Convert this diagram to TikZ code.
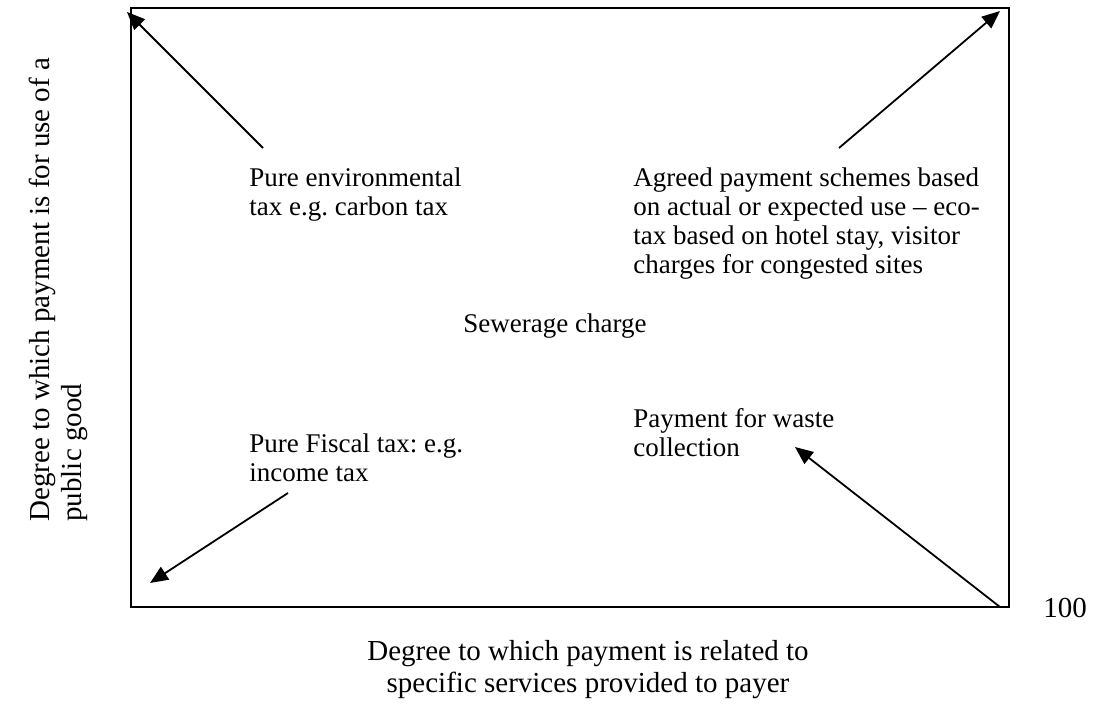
\documentclass[tikz,border=0pt]{standalone}
\usepackage{fontspec}
\setmainfont{Liberation Serif}
\usetikzlibrary{arrows.meta,positioning}
\frenchspacing

\tikzset{
  lbl/.style={anchor=base west,inner sep=0pt,align=left,font=\fontsize{13.5}{14.5}\selectfont},
  axlbl/.style={lbl,font=\fontsize{14.5}{16}\selectfont},
  ptr/.style={line width=0.9pt,-{Triangle[length=9pt,width=7.5pt]}},
}

\begin{document}
\begin{tikzpicture}[x=0.5pt,y=-0.5pt]
  \useasboundingbox (0,0) rectangle (1093,706);
  \draw[line width=1pt] (131,8) rectangle (1009,607);

  % labels (anchored on the baseline of their last line)
  \node[lbl] (env) at (249,215) {Pure environmental\\tax e.g. carbon tax};
  \node[lbl] (agr) at (633,273) {Agreed payment schemes based\\on actual or expected use -- eco-\\tax based on hotel stay, visitor\\charges for congested sites};
  \node[lbl] (sew) at (463,332) {Sewerage charge};
  \node[lbl] (waste) at (633,456) {Payment for waste\\collection};
  \node[lbl] (fisc) at (249,481) {Pure Fiscal tax: e.g.\\income tax};
  \node[axlbl] (hund) at (1043,617) {100};

  \node[axlbl,anchor=base,align=center] (xlab) at (588,692) {Degree to which payment is related to\\specific services provided to payer};
  \node[axlbl,rotate=90] (ylab) at (81,522) {Degree to which payment is for use of a\\public good};

  % arrows to the corners
  \coordinate (envS) at (263,148);   \coordinate (tl) at (127,12);
  \coordinate (agrS) at (839,148);   \coordinate (tr) at (1000,11);
  \coordinate (fiscS) at (288,493);  \coordinate (bl) at (150,583);
  \coordinate (br) at (1000,607);    \coordinate (wasteT) at (795,447);
     \draw[ptr] (envS) -- (tl);
     \draw[ptr] (agrS) -- (tr);
     \draw[ptr] (fiscS) -- (bl);
     \draw[ptr] (br) -- (wasteT);
\end{tikzpicture}
\end{document}
